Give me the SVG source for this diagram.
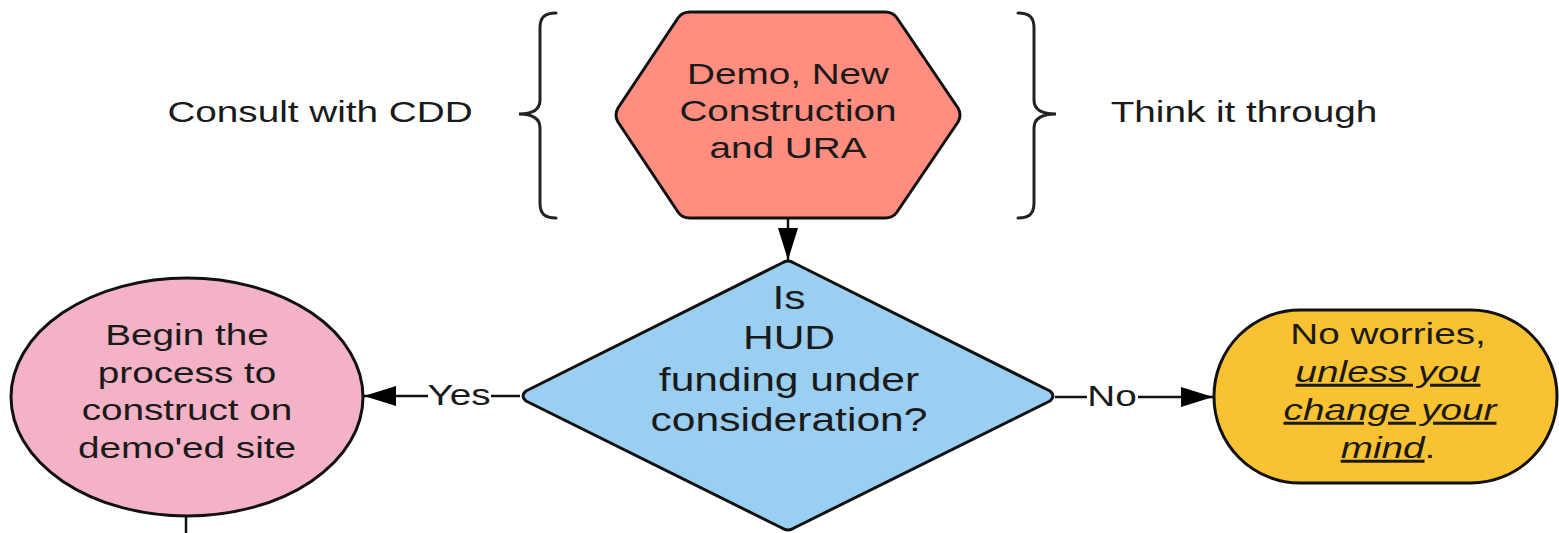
<svg xmlns="http://www.w3.org/2000/svg" width="1559" height="533" viewBox="0 0 1559 533">
<style>
.t{font-family:"Liberation Sans",Arial,sans-serif;font-size:30px;fill:#1a1a1a;text-anchor:middle}
.big{font-size:33px}
.shape{stroke:#111;stroke-width:3;stroke-linejoin:round}
.conn{stroke:#111;stroke-width:2.5;fill:none}
.brace{stroke:#222;stroke-width:3;fill:none;stroke-linecap:round}
.u{font-style:italic;text-decoration:underline}
</style>
<defs>
<marker id="arr" markerUnits="userSpaceOnUse" markerWidth="34" markerHeight="24" viewBox="0 0 34 24" refX="32" refY="12" orient="auto">
<path d="M0,2 L32,12 L0,22 Z" fill="#000"/>
</marker>
</defs>

<g id="connectors">
<line class="conn" x1="788" y1="219" x2="788" y2="260" marker-end="url(#arr)"/>
<line class="conn" x1="520" y1="396" x2="364" y2="396" marker-end="url(#arr)"/>
<line class="conn" x1="1055" y1="397" x2="1213" y2="397" marker-end="url(#arr)"/>
<line class="conn" x1="186" y1="516" x2="186" y2="533"/>
<g id="label-yes">
<rect x="428" y="382" width="63" height="26" fill="#fff"/>
<text class="t" transform="translate(459 405) scale(1.29 1)">Yes</text>
</g>
<g id="label-no">
<rect x="1087" y="383" width="51" height="26" fill="#fff"/>
<text class="t" transform="translate(1112 406) scale(1.29 1)">No</text>
</g>
</g>

<g id="consult">
<text class="t" transform="translate(320 122) scale(1.29 1)">Consult with CDD</text>
<path class="brace" d="M556,13 C545,13 540,17 540,28 L540,100 C540,110 532,114 519,114 C532,114 540,118 540,128 L540,203 C540,214 545,218 556,218"/>
</g>

<g id="think">
<text class="t" transform="translate(1244 122) scale(1.29 1)">Think it through</text>
<path class="brace" d="M1018,13 C1029,13 1034,17 1034,28 L1034,100 C1034,110 1042,114 1056,114 C1042,114 1034,118 1034,128 L1034,203 C1034,214 1029,218 1018,218"/>
</g>

<g id="hexagon">
<path class="shape" fill="#FF8E80" d="M690,12 L885,12 Q893,12 897,18 L958,108 Q962,115 958,122 L897,212 Q893,218 885,218 L690,218 Q682,218 678,212 L618,122 Q614,115 618,108 L678,18 Q682,12 690,12 Z"/>
<text class="t" transform="translate(788 84) scale(1.29 1)">Demo, New</text>
<text class="t" transform="translate(788 121) scale(1.29 1)">Construction</text>
<text class="t" transform="translate(788 158) scale(1.29 1)">and URA</text>
</g>

<g id="decision">
<path class="shape" fill="#9ACFF1" d="M782,263 Q788,259 794,263 L1050,391 Q1056,396 1050,401 L794,528 Q788,532 782,528 L526,401 Q520,396 526,391 Z"/>
<text class="t big" transform="translate(789 309) scale(1.29 1)">Is</text>
<text class="t big" transform="translate(789 349) scale(1.29 1)">HUD</text>
<text class="t big" transform="translate(789 391) scale(1.29 1)">funding under</text>
<text class="t big" transform="translate(789 431) scale(1.29 1)">consideration?</text>
</g>

<g id="begin">
<ellipse class="shape" fill="#F4B2C6" cx="187" cy="397" rx="176" ry="119"/>
<text class="t" transform="translate(187 345) scale(1.29 1)">Begin the</text>
<text class="t" transform="translate(187 383) scale(1.29 1)">process to</text>
<text class="t" transform="translate(187 420) scale(1.29 1)">construct on</text>
<text class="t" transform="translate(187 458) scale(1.29 1)">demo'ed site</text>
</g>

<g id="noworries">
<rect class="shape" fill="#F9C232" x="1214" y="310" width="343" height="173" rx="86" ry="86"/>
<text class="t" transform="translate(1388 344) scale(1.29 1)">No worries,</text>
<text class="t" transform="translate(1388 382) scale(1.29 1)"><tspan class="u">unless you</tspan></text>
<text class="t" transform="translate(1390 420) scale(1.29 1)"><tspan class="u">change your</tspan></text>
<text class="t" transform="translate(1388 458) scale(1.29 1)"><tspan class="u">mind</tspan>.</text>
</g>
</svg>
